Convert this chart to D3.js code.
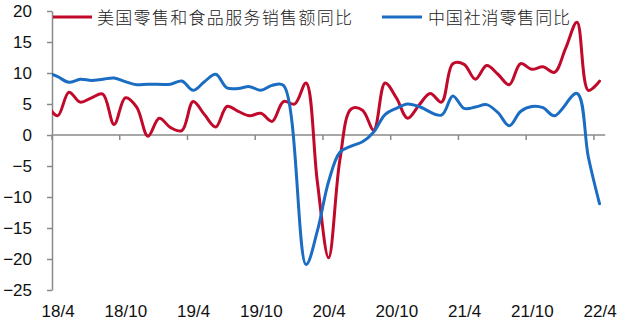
<!DOCTYPE html>
<html><head><meta charset="utf-8">
<script src="https://cdn.jsdelivr.net/npm/d3@7"></script>
<style>body{margin:0;background:#fff}</style>
</head><body>
<svg id="c" width="640" height="327"></svg>
<script>
const months = ["18/3","18/4","18/5","18/6","18/7","18/8","18/9","18/10","18/11","18/12",
  "19/1","19/2","19/3","19/4","19/5","19/6","19/7","19/8","19/9","19/10","19/11","19/12",
  "20/1","20/2","20/3","20/4","20/5","20/6","20/7","20/8","20/9","20/10","20/11","20/12",
  "21/1","21/2","21/3","21/4","21/5","21/6","21/7","21/8","21/9","21/10","21/11","21/12",
  "22/1","22/2","22/3","22/4"];
const usRetail = [5.0,3.1,6.9,5.3,6.0,6.6,1.7,6.0,4.5,-0.2,
  2.7,1.2,0.7,5.4,3.3,1.3,4.6,3.8,3.1,3.5,2.2,5.4,
  5.0,8.4,-7.5,-19.8,-4.0,4.2,4.0,0.8,8.4,6.0,2.7,4.8,
  6.7,5.3,11.5,11.4,9.0,11.2,9.8,8.1,11.5,10.6,11.0,10.1,
  14.0,18.2,7.2,8.7];
const cnRetail = [10.1,9.4,8.5,9.0,8.8,9.0,9.2,8.6,8.1,8.2,
  null,8.2,8.7,7.2,8.6,9.8,7.6,7.5,7.8,7.2,8.0,8.0,
  null,-20.9,-15.5,-7.5,-2.8,-1.8,-1.1,0.5,3.3,4.3,5.0,4.6,
  null,3.2,6.3,4.3,4.5,4.9,3.6,1.5,3.8,4.6,4.4,3.1,
  null,6.7,-3.5,-11.1];
const tickLabels = ["18/4","18/10","19/4","19/10","20/4","20/10","21/4","21/10","22/4"];
const yTicks = [-25,-20,-15,-10,-5,0,5,10,15,20];
const seriesNames = ["美国零售和食品服务销售额同比","中国社消零售同比"];
const colors = ["#C0092B","#1A6DC2"];

const svg = d3.select("#c");
const bw = 11.29, left = 52;
const x = d3.scaleBand().domain(months).range([left - bw, left + (months.length - 1) * bw]);
const y = d3.scaleLinear().domain([-25, 20]).range([290, 11]);
const right = left + (months.length - 1) * bw;

svg.append("defs").append("clipPath").attr("id","clip")
  .append("rect").attr("x", left).attr("y", 0).attr("width", right - left + 2).attr("height", 327);

// Y axis
const ya = svg.append("g").attr("transform", `translate(${left},0)`)
  .call(d3.axisLeft(y).tickValues(yTicks).tickSize(5).tickSizeOuter(0).tickPadding(15));
ya.select(".domain").attr("stroke", "#8a8a8a").attr("stroke-width", 1.5);
ya.selectAll(".tick line").attr("stroke", "#8a8a8a").attr("stroke-width", 1.5);
ya.selectAll(".tick text").attr("font-family", "'Liberation Sans', Arial, sans-serif")
  .attr("font-size", 17).attr("fill", "#111");

// X axis (at zero)
const xa = svg.append("g");
xa.append("line").attr("x1", left).attr("x2", right).attr("y1", y(0)).attr("y2", y(0))
  .attr("stroke", "#8a8a8a").attr("stroke-width", 1.5);
xa.selectAll("line.t").data(tickLabels).join("line").attr("class","t")
  .attr("x1", d => x(d)).attr("x2", d => x(d)).attr("y1", y(0)).attr("y2", y(0) + 5)
  .attr("stroke", "#8a8a8a").attr("stroke-width", 1.5);
xa.selectAll("text").data(tickLabels).join("text")
  .attr("x", d => x(d) + bw / 2 + 0.5).attr("y", 317)
  .attr("text-anchor", "middle").attr("font-family", "'Liberation Sans', Arial, sans-serif")
  .attr("font-size", 17).attr("fill", "#111").text(d => d);

// Lines
const line = d3.line().x(d => x(d.m) + bw / 2).y(d => y(d.v)).curve(d3.curveCatmullRom.alpha(0.5));
const plot = svg.append("g").attr("clip-path", "url(#clip)");
[usRetail, cnRetail].forEach((vals, k) => {
  const data = months.map((m, i) => ({m, v: vals[i]})).filter(d => d.v !== null);
  plot.append("path").datum(data).attr("d", line).attr("fill", "none")
    .attr("stroke", colors[k]).attr("stroke-width", 3).attr("stroke-linejoin", "round").attr("stroke-linecap", "round");
});

// Legend
const leg = [{x1: 53, x2: 92, tx: 97, tl: 255}, {x1: 382, x2: 422, tx: 428, tl: 142}];
leg.forEach((L, k) => {
  svg.append("line").attr("x1", L.x1).attr("x2", L.x2).attr("y1", 17).attr("y2", 17)
    .attr("stroke", colors[k]).attr("stroke-width", 3);
  svg.append("text").attr("x", L.tx).attr("y", 24)
    .attr("font-family", "'Noto Sans CJK SC', sans-serif").attr("font-weight", 300)
    .attr("font-size", 17).attr("fill", "#222")
    .attr("textLength", L.tl).attr("lengthAdjust", "spacing").text(seriesNames[k]);
});
</script>
</body></html>
